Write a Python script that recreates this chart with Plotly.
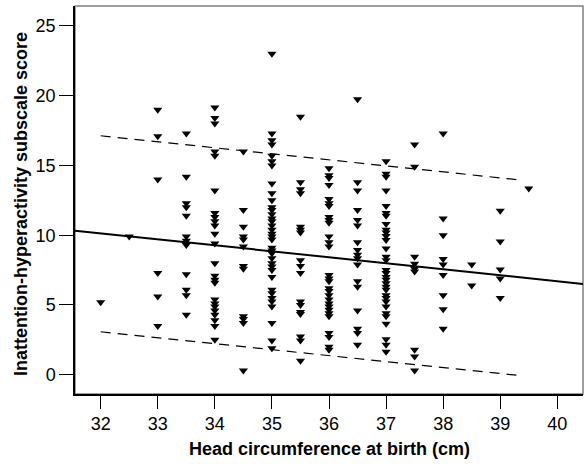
import plotly.graph_objects as go

# Data: head circumference (cm) columns and inattention-hyperactivity scores
columns = {
    32.0: [5.2],
    32.5: [9.9],
    33.0: [19.0, 17.1, 14.0, 7.3, 5.6, 3.5],
    33.5: [17.3, 14.2, 12.3, 12.0, 11.4, 9.9, 9.6, 9.3, 7.2, 6.1, 5.7, 4.3],
    34.0: [19.15, 18.4, 18.0, 16.0, 15.7, 13.2, 11.6, 11.3, 11.0, 10.7, 10.1, 9.4,
           8.0, 7.1, 6.8, 6.6, 5.4, 5.1, 4.9, 4.6, 4.3, 3.9, 3.5, 2.5],
    34.5: [16.0, 11.8, 10.6, 9.9, 9.7, 9.2, 7.8, 7.6, 4.2, 4.0, 3.7, 0.3],
    35.0: [23.0, 17.3, 16.8, 16.5, 15.7, 15.3, 15.0, 13.7, 13.0, 12.5, 12.0, 11.8,
           11.5, 11.2, 11.0, 10.7, 10.4, 10.1, 9.9, 9.7, 9.1, 8.9, 8.7, 8.35, 8.0,
           7.75, 7.5, 7.0, 6.1, 5.85, 5.5, 5.25, 4.9, 3.7, 2.45, 1.9],
    35.5: [18.5, 13.8, 13.3, 13.0, 10.6, 10.4, 10.2, 8.2, 7.8, 7.3, 5.25, 5.0,
           4.5, 4.35, 2.75, 2.45, 1.0],
    36.0: [14.8, 14.3, 14.1, 13.6, 12.6, 12.3, 12.1, 11.3, 11.1, 10.9, 9.9, 9.5,
           9.2, 7.15, 6.9, 6.7, 6.2, 6.0, 5.7, 5.4, 5.1, 4.9, 4.65, 4.4, 4.2, 3.0,
           2.7, 2.0, 1.8],
    36.5: [19.75, 13.8, 13.2, 11.8, 11.1, 10.7, 9.5, 8.95, 8.6, 8.35, 7.9, 6.7,
           6.3, 4.6, 3.3, 3.0, 2.15],
    37.0: [15.3, 14.4, 14.2, 13.2, 12.1, 11.6, 11.4, 10.8, 10.4, 10.2, 9.95, 9.65,
           9.05, 8.45, 8.2, 7.5, 7.3, 7.0, 6.8, 6.55, 6.3, 6.1, 5.7, 5.5, 5.25, 4.9,
           4.4, 4.2, 3.65, 2.55, 2.15, 1.65],
    37.5: [16.5, 14.9, 8.45, 7.95, 7.6, 7.4, 1.8, 1.3, 0.3],
    38.0: [17.3, 11.2, 10.0, 8.3, 7.9, 7.15, 5.7, 4.7, 3.3],
    38.5: [7.9, 6.4],
    39.0: [11.75, 9.55, 7.55, 6.9, 5.5],
    39.5: [13.35],
}
head_circ = [x for x, ys in columns.items() for _ in ys]
score = [y for ys in columns.values() for y in ys]

# Fitted line and prediction interval
fit_x = [31.55, 40.45]
fit_y = [10.33, 6.51]
band_x = [32.0, 39.37]
upper_y = [17.13, 13.95]
lower_y = [3.08, -0.07]

x_ticks = [32, 33, 34, 35, 36, 37, 38, 39, 40]
y_ticks = [0, 5, 10, 15, 20, 25]

FONT = "Liberation Sans, Arial, sans-serif"

fig = go.Figure()
fig.add_trace(go.Scatter(x=fit_x, y=fit_y, mode="lines",
                         line=dict(color="black", width=2), hoverinfo="skip"))
for yy in (upper_y, lower_y):
    fig.add_trace(go.Scatter(x=band_x, y=yy, mode="lines",
                             line=dict(color="black", width=1.2, dash="10px,7px"),
                             hoverinfo="skip"))
fig.add_trace(go.Scatter(x=head_circ, y=score, mode="markers",
                         marker=dict(symbol="triangle-down", size=8, color="black",
                                     line=dict(width=0))))

fig.update_layout(
    width=585, height=464,
    margin=dict(l=75, r=2, t=6, b=70),
    paper_bgcolor="white", plot_bgcolor="white",
    showlegend=False,
    font=dict(family=FONT, size=18, color="black"),
    shapes=[dict(type="rect", xref="paper", yref="paper", x0=0, x1=1, y0=0, y1=1,
                 line=dict(color="#808080", width=1.5), layer="below")],
    annotations=[
        dict(text="<b>Head circumference at birth (cm)</b>", xref="paper", yref="paper",
             x=0.5, y=-0.142, xanchor="center", yanchor="middle", showarrow=False,
             font=dict(family=FONT, size=18, color="black")),
        dict(text="<b>Inattention-hyperactivity subscale score</b>", xref="paper",
             yref="paper", x=-0.106, y=0.49, xanchor="center", yanchor="middle",
             textangle=-90, showarrow=False,
             font=dict(family=FONT, size=18, color="black")),
    ],
)
fig.update_xaxes(range=[31.55, 40.45], tickvals=x_ticks, ticks="outside", ticklen=13,
                 tickcolor="black", tickwidth=1, showgrid=False, zeroline=False,
                 showline=True, linecolor="black", linewidth=1.5,
                 tickfont=dict(size=18, color="black"))
fig.update_yaxes(range=[-1.38, 26.43], tickvals=y_ticks, ticks="outside", ticklen=14,
                 tickcolor="black", tickwidth=1, showgrid=False, zeroline=False,
                 showline=True, linecolor="black", linewidth=1.5,
                 tickfont=dict(size=18, color="black"))

fig.write_html("out.html", config={"displayModeBar": False},
               post_script="document.body.style.margin='0';document.body.style.overflow='hidden';")
